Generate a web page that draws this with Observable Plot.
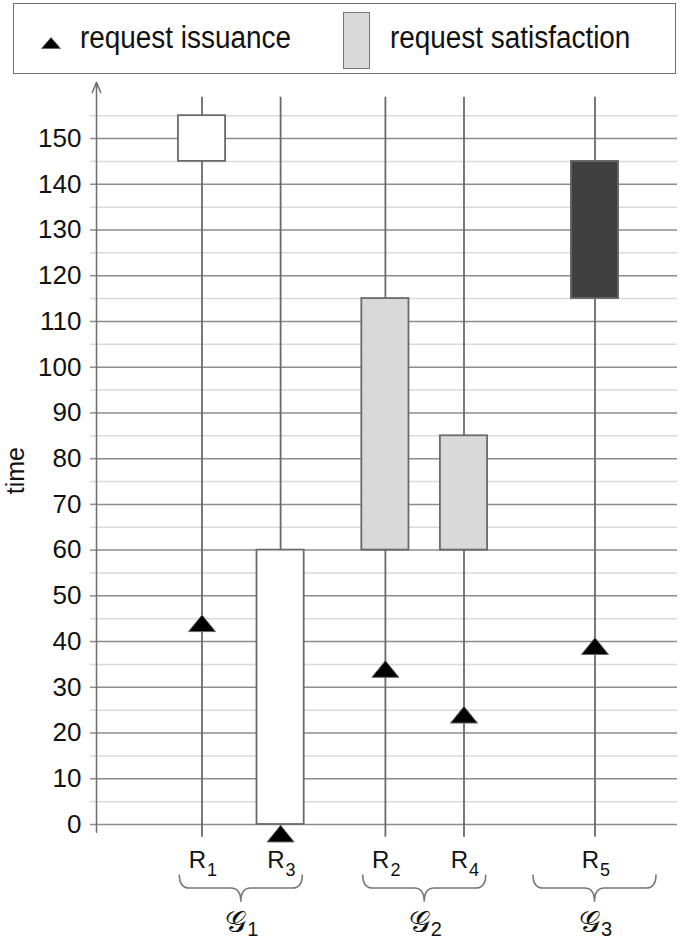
<!DOCTYPE html>
<html><head><meta charset="utf-8">
<script src="https://cdn.jsdelivr.net/npm/d3@7"></script>
<script src="https://cdn.jsdelivr.net/npm/@observablehq/plot@0.6"></script>
<style>
body{margin:0;background:#fff;font-family:"Liberation Sans",Arial,sans-serif;}
#legend{position:relative;height:78px;width:685px;}
#legend .box{position:absolute;left:13px;top:3px;width:663px;height:71px;border:1.5px solid #6e6e6e;box-sizing:border-box;}
#legend .tri{position:absolute;left:41px;top:37px;}
#legend .sw{position:absolute;left:343px;top:12px;width:27px;height:57px;background:#d9d9d9;border:1.5px solid #777;box-sizing:border-box;}
#legend .lab{position:absolute;top:21px;font-size:31px;line-height:34px;color:#111;white-space:nowrap;transform:scaleX(0.9);transform-origin:left center;}
#chart svg{display:block;}
</style></head>
<body>
<div id="legend">
  <div class="box"></div>
  <svg class="tri" width="20" height="12"><path d="M10,0.5L19.5,11.5L0.5,11.5Z" fill="#000" stroke="#666" stroke-width="1"/></svg>
  <div class="lab" style="left:80px">request issuance</div>
  <div class="sw"></div>
  <div class="lab" style="left:390px">request satisfaction</div>
</div>
<div id="chart"></div>
<script>
// ---- data ----
const requests = ["R1", "R3", "R2", "R4", "R5"];
const requestGroup = ["G1", "G1", "G2", "G2", "G3"];
const groupNames = ["G1", "G2", "G3"];
const issuanceTime = [44, -2, 34, 24, 39];
const satisfactionStart = [145, 0, 60, 60, 115];
const satisfactionEnd = [155, 60, 115, 85, 145];
const yMajorTicks = [0, 10, 20, 30, 40, 50, 60, 70, 80, 90, 100, 110, 120, 130, 140, 150];
const yMinorTicks = [5, 15, 25, 35, 45, 55, 65, 75, 85, 95, 105, 115, 125, 135, 145, 155];
const groupShades = ["#ffffff", "#d9d9d9", "#404040"];

// ---- layout derived from group structure ----
const GROUP_STEP = 7, ITEM_STEP = 3;
const rows = requests.map((r, i) => {
  const g = requestGroup[i];
  const gi = groupNames.indexOf(g);
  const members = requests.filter((_, j) => requestGroup[j] === g);
  const k = members.indexOf(r);
  const slot = gi * GROUP_STEP + k * ITEM_STEP + (members.length === 1 ? 1 : 0);
  return {name: r, num: r.slice(1), group: g, slot,
          issuance: issuanceTime[i], start: satisfactionStart[i], end: satisfactionEnd[i]};
});
const groupRows = groupNames.map(g => {
  const s = rows.filter(d => d.group === g).map(d => d.slot);
  return {group: g, num: g.slice(1), center: d3.mean(s)};
});

const flatTriangle = {
  draw(ctx) { ctx.moveTo(0, -8.3); ctx.lineTo(13.5, 8.3); ctx.lineTo(-13.5, 8.3); ctx.closePath(); }
};

const XMIN = -4.027, XMAX = 18.149;
const LINE = "#6a6a6a";

const plot = Plot.plot({
  width: 685, height: 863,
  marginLeft: 96, marginRight: 8, marginTop: 14.3, marginBottom: 117,
  x: {domain: [XMIN, XMAX], axis: null},
  y: {domain: [0, 160], axis: null},
  color: {domain: groupNames, range: groupShades},
  style: {fontFamily: "'Liberation Sans', Arial, sans-serif", background: "#fff", color: "#111"},
  marks: [
    Plot.ruleY(yMinorTicks, {stroke: "#dadada", strokeWidth: 1.5}),
    Plot.ruleY(yMajorTicks, {stroke: "#8c8c8c", strokeWidth: 1.5}),
    Plot.axisY(yMinorTicks, {tickSize: 6, tickFormat: () => "", stroke: "#dadada", strokeWidth: 1.5, label: null}),
    Plot.axisY(yMajorTicks, {tickSize: 6, tickPadding: 9, fontSize: 26, stroke: "#8c8c8c", strokeWidth: 1.5, fill: "#111", label: null}),
    Plot.arrow([0], {x1: XMIN, x2: XMIN, y1: -1.7, y2: 162.3, stroke: "#6e6e6e", strokeWidth: 1.5, headLength: 11, headAngle: 45}),
    Plot.text(["time"], {frameAnchor: "left", textAnchor: "middle", rotate: -90, dx: -81, dy: 12, fontSize: 25, fill: "#111"}),
    Plot.ruleX(rows, {x: "slot", y1: -2.8, y2: 159, stroke: LINE, strokeWidth: 1.8}),
    Plot.rect(rows, {x1: d => d.slot - 0.9, x2: d => d.slot + 0.9, y1: "start", y2: "end", fill: "group", stroke: LINE, strokeWidth: 1.8}),
    Plot.dot(rows, {x: "slot", y: "issuance", symbol: flatTriangle, r: 10, fill: "#000", stroke: "#666", strokeWidth: 1}),
    Plot.text(rows, {x: "slot", text: () => "R", frameAnchor: "bottom", lineAnchor: "bottom", dy: 43.5, dx: 4, textAnchor: "end", fontSize: 24, fill: "#111"}),
    Plot.text(rows, {x: "slot", text: "num", frameAnchor: "bottom", lineAnchor: "bottom", dy: 51, dx: 5, textAnchor: "start", fontSize: 18, fill: "#111"}),
    Plot.text(groupRows, {x: "center", text: () => "𝒢", frameAnchor: "bottom", lineAnchor: "bottom", dy: 107, dx: 5, textAnchor: "end", fontSize: 30, fill: "#111", fontFamily: "'DejaVu Serif', 'DejaVu Sans', serif"}),
    Plot.text(groupRows, {x: "center", text: "num", frameAnchor: "bottom", lineAnchor: "bottom", dy: 111, dx: 6, textAnchor: "start", fontSize: 20, fill: "#111"})
  ]
});

// curly braces under each group, positioned with the plot's x scale
const xs = plot.scale("x");
const svg = d3.select(plot.tagName === "svg" ? plot : plot.querySelector("svg"));
const y0 = 796.4, y1 = 810, y2 = 823.7, halfW = 61.5, r = 10;
svg.append("g").attr("fill", "none").attr("stroke", "#777").attr("stroke-width", 1.6)
  .selectAll("path").data(groupRows).join("path")
  .attr("d", d => {
    const c = xs.apply(d.center);
    return `M${c - halfW},${y0} Q${c - halfW},${y1} ${c - halfW + r},${y1} L${c - r},${y1} Q${c},${y1} ${c},${y2} Q${c},${y1} ${c + r},${y1} L${c + halfW - r},${y1} Q${c + halfW},${y1} ${c + halfW},${y0}`;
  });

document.getElementById("chart").append(plot);
</script>
</body></html>
